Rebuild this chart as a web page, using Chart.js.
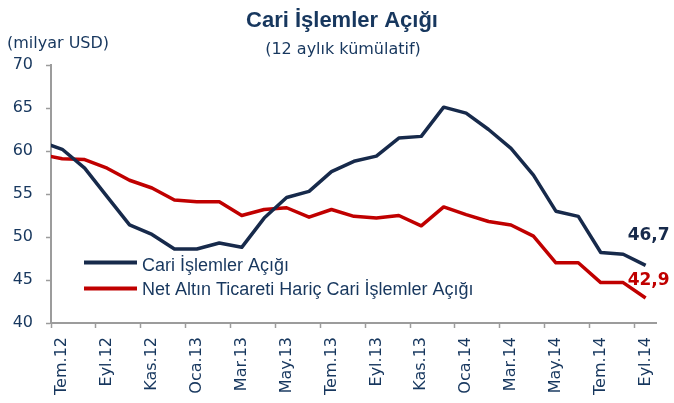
<!DOCTYPE html>
<html>
<head>
<meta charset="utf-8">
<script src="https://cdn.jsdelivr.net/npm/chart.js@4.4.1/dist/chart.umd.min.js"></script>
<style>
  html, body { margin: 0; padding: 0; background: #ffffff; }
  #wrap { width: 674px; height: 403px; position: relative; }
</style>
</head>
<body>
<div id="wrap"><canvas id="c" width="674" height="403"></canvas></div>
<script>
// ---- data (first entry Haz.12 lies just left of the visible axis) ----
const categories = ['Haz.12','Tem.12','Ağu.12','Eyl.12','Eki.12','Kas.12','Ara.12',
  'Oca.13','Şub.13','Mar.13','Nis.13','May.13','Haz.13','Tem.13','Ağu.13','Eyl.13','Eki.13','Kas.13','Ara.13',
  'Oca.14','Şub.14','Mar.14','Nis.14','May.14','Haz.14','Tem.14','Ağu.14','Eyl.14'];
const cariAcik = [61.1, 60.2, 58.0, 54.7, 51.4, 50.3, 48.6, 48.6, 49.3, 48.8, 52.2, 54.6, 55.3, 57.6,
  58.8, 59.4, 61.5, 61.7, 65.1, 64.4, 62.5, 60.3, 57.2, 53.0, 52.4, 48.2, 48.0, 46.7];
const altinHaric = [59.6, 59.1, 59.0, 58.0, 56.6, 55.7, 54.3, 54.1, 54.1, 52.5, 53.2, 53.4, 52.3, 53.2,
  52.4, 52.2, 52.5, 51.3, 53.5, 52.6, 51.8, 51.4, 50.1, 47.0, 47.0, 44.7, 44.7, 42.9];
const seriesNames = ['Cari İşlemler Açığı', 'Net Altın Ticareti Hariç Cari İşlemler Açığı'];
const titleText = 'Cari İşlemler Açığı';
const subtitleText = '(12 aylık kümülatif)';
const unitText = '(milyar USD)';

const NAVY = '#172A4B';
const RED = '#C00000';
const TEXT = '#17375E';
const AXIS = '#9C9C9C';

const overlay = {
  id: 'overlay',
  afterDatasetsDraw(chart) {
    const ctx = chart.ctx;
    ctx.save();
    // titles
    ctx.fillStyle = TEXT;
    ctx.textAlign = 'center';
    ctx.textBaseline = 'alphabetic';
    ctx.font = 'bold 22px "Liberation Sans", Arial, sans-serif';
    ctx.fillText(titleText, 342, 27);
    ctx.font = '16px "DejaVu Sans", sans-serif';
    ctx.fillText(subtitleText, 343, 54);
    ctx.textAlign = 'left';
    ctx.fillText(unitText, 7, 48);

    // legend
    const lg = [[NAVY, 262.5, 271], [RED, 288.5, 295]];
    ctx.font = '18px "Liberation Sans", Arial, sans-serif';
    lg.forEach((r, i) => {
      ctx.strokeStyle = r[0];
      ctx.lineWidth = 4;
      ctx.lineCap = 'butt';
      ctx.beginPath();
      ctx.moveTo(84, r[1]);
      ctx.lineTo(137, r[1]);
      ctx.stroke();
      ctx.fillStyle = TEXT;
      ctx.fillText(seriesNames[i], 142, r[2]);
    });

    // end value labels
    const xs = chart.scales.x, ys = chart.scales.y;
    const last = categories.length - 1;
    const fmt = v => v.toFixed(1).replace('.', ',');
    ctx.font = 'bold 17px "DejaVu Sans", sans-serif';
    ctx.fillStyle = NAVY;
    ctx.fillText(fmt(cariAcik[last]), xs.getPixelForValue(last) - 18, ys.getPixelForValue(cariAcik[last]) - 25);
    ctx.fillStyle = RED;
    ctx.fillText(fmt(altinHaric[last]), xs.getPixelForValue(last) - 18, ys.getPixelForValue(altinHaric[last]) - 13);
    ctx.restore();
  }
};

new Chart(document.getElementById('c'), {
  type: 'line',
  data: {
    labels: categories,
    datasets: [
      { label: seriesNames[0], data: cariAcik, borderColor: NAVY, backgroundColor: NAVY,
        borderWidth: 3.5, pointRadius: 0, tension: 0, borderJoinStyle: 'round' },
      { label: seriesNames[1], data: altinHaric, borderColor: RED, backgroundColor: RED,
        borderWidth: 3.5, pointRadius: 0, tension: 0, borderJoinStyle: 'round' }
    ]
  },
  options: {
    responsive: false,
    animation: false,
    events: [],
    layout: { padding: { left: 0, right: 9, top: 65, bottom: 0 } },
    plugins: { legend: { display: false }, title: { display: false }, tooltip: { enabled: false } },
    scales: {
      x: {
        type: 'category',
        min: 1,
        offset: true,
        border: { display: true, color: AXIS, width: 2 },
        grid: {
          offset: true,
          drawOnChartArea: false,
          drawTicks: true,
          tickLength: 5,
          tickWidth: 1.5,
          tickColor: c => (c.index % 2 === 0 ? AXIS : 'rgba(0,0,0,0)')
        },
        ticks: {
          autoSkip: false,
          minRotation: 90,
          maxRotation: 90,
          padding: 9,
          color: TEXT,
          font: { family: '"DejaVu Sans", sans-serif', size: 16 },
          callback: function (val, idx) { return idx % 2 === 0 ? this.getLabelForValue(val) : ''; }
        },
        afterFit(s) { s.height = 80; }
      },
      y: {
        min: 40,
        max: 70,
        border: { display: true, color: AXIS, width: 2 },
        grid: { drawOnChartArea: false, drawTicks: true, tickLength: 5, tickWidth: 1.5, tickColor: AXIS },
        ticks: {
          stepSize: 5,
          padding: 13,
          color: TEXT,
          font: { family: '"DejaVu Sans", sans-serif', size: 16 }
        },
        afterFit(s) { s.width = 51; }
      }
    }
  },
  plugins: [overlay]
});
</script>
</body>
</html>
